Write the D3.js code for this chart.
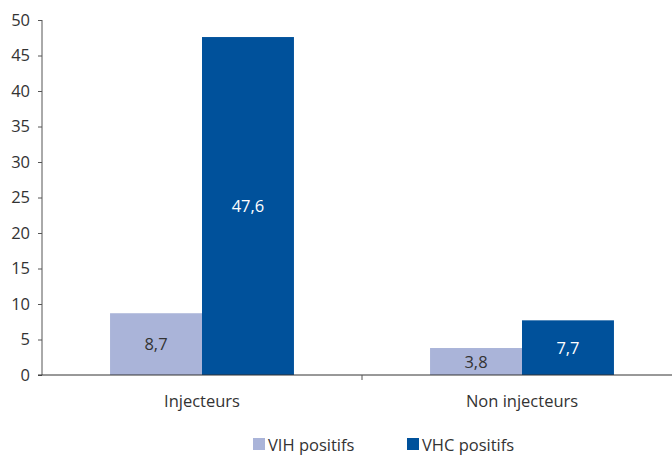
<!DOCTYPE html>
<html>
<head>
<meta charset="utf-8">
<script src="https://cdn.jsdelivr.net/npm/d3@7"></script>
<style>
  body { margin: 0; background: #fff; }
  svg text { font-family: "Open Sans", sans-serif; }
</style>
</head>
<body>
<svg id="chart" width="672" height="455"></svg>
<script>
// chart data
var categories = ["Injecteurs", "Non injecteurs"];
var seriesNames = ["VIH positifs", "VHC positifs"];
var vihValues = [8.7, 3.8];
var vhcValues = [47.6, 7.7];
var yTicks = [0, 5, 10, 15, 20, 25, 30, 35, 40, 45, 50];

var colors = ["#aab4d9", "#00519b"];
var labelColors = ["#333333", "#ffffff"];

var svg = d3.select("#chart");
var margin = {top: 20, left: 42};
var plotBottom = 375;

var x = d3.scaleBand()
	.domain(categories)
	.range([margin.left, 682]);

var xInner = d3.scaleBand()
	.domain(seriesNames)
	.range([0, x.bandwidth()])
	.paddingOuter(0.74);

var y = d3.scaleLinear()
	.domain([0, 50])
	.range([plotBottom, margin.top]);

var rows = categories.map(function(c, i) {
	return {cat: c, values: [vihValues[i], vhcValues[i]]};
});

// bars
var groups = svg.append("g")
	.selectAll("g")
	.data(rows)
	.enter().append("g")
	.attr("transform", d => "translate(" + x(d.cat) + ",0)");

groups.selectAll("rect")
	.data(d => d.values.map((v, j) => ({name: seriesNames[j], v: v, j: j})))
	.enter().append("rect")
	.attr("x", d => xInner(d.name))
	.attr("width", xInner.bandwidth())
	.attr("y", d => y(d.v))
	.attr("height", d => plotBottom - y(d.v))
	.attr("fill", d => colors[d.j]);

groups.selectAll("text")
	.data(d => d.values.map((v, j) => ({name: seriesNames[j], v: v, j: j})))
	.enter().append("text")
	.attr("x", d => xInner(d.name) + xInner.bandwidth() / 2)
	.attr("y", d => (y(d.v) + plotBottom) / 2)
	.attr("dy", "0.38em")
	.attr("text-anchor", "middle")
	.attr("fill", d => labelColors[d.j])
	.style("font-size", "16.5px")
	.text(d => String(d.v).replace(".", ","));

// y axis
var yAxis = svg.append("g")
	.attr("transform", "translate(" + margin.left + ",0)")
	.call(d3.axisLeft(y).tickValues(yTicks).tickSize(4).tickPadding(8));
yAxis.select(".domain").attr("stroke", "#555").attr("d", "M0," + y(50) + "V" + plotBottom);
yAxis.selectAll(".tick line").attr("stroke", "#555");
yAxis.selectAll(".tick text")
	.attr("fill", "#333")
	.style("font-size", "16.5px")
	.style("font-family", "'Open Sans', sans-serif");

// x axis
var xAxis = svg.append("g")
	.attr("transform", "translate(0," + plotBottom + ")");
xAxis.append("line")
	.attr("x1", margin.left - 4)
	.attr("x2", 672)
	.attr("stroke", "#333");
xAxis.selectAll("line.sep")
	.data(categories.slice(1))
	.enter().append("line")
	.attr("class", "sep")
	.attr("x1", d => x(d))
	.attr("x2", d => x(d))
	.attr("y1", 0)
	.attr("y2", 5)
	.attr("stroke", "#555");
xAxis.selectAll("text")
	.data(categories)
	.enter().append("text")
	.attr("x", d => x(d) + x.bandwidth() / 2)
	.attr("y", 32)
	.attr("text-anchor", "middle")
	.attr("fill", "#333")
	.style("font-size", "16.5px")
	.text(d => d);

// legend
var legendX = [253, 407];
var legend = svg.append("g")
	.selectAll("g")
	.data(seriesNames)
	.enter().append("g")
	.attr("transform", (d, i) => "translate(" + legendX[i] + ",438)");
legend.append("rect")
	.attr("width", 12)
	.attr("height", 12)
	.attr("fill", (d, i) => colors[i]);
legend.append("text")
	.attr("x", 15)
	.attr("y", 12.5)
	.attr("fill", "#333")
	.style("font-size", "16.5px")
	.text(d => d);
</script>
</body>
</html>
